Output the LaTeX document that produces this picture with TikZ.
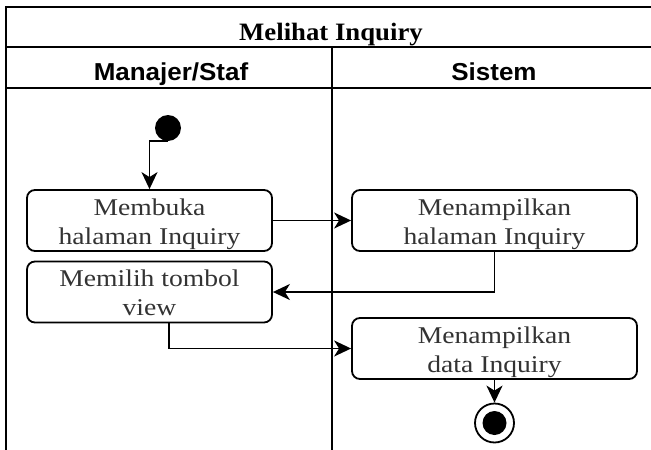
\documentclass[tikz,border=0pt]{standalone}
\usepackage{fontspec}
\setmainfont{Liberation Serif}
\newfontfamily\boxfont[FakeStretch=1.15]{Liberation Serif}
\newfontfamily\titlefont[FakeStretch=1.07]{Liberation Serif}
\newfontfamily\headfont[FakeStretch=1.06]{Liberation Sans}
\usetikzlibrary{arrows.meta}
\tikzset{
  frameline/.style={line width=2.8pt, black},
  sepline/.style={line width=2.2pt, black},
  actbox/.style={draw=black, line width=1.8pt, rounded corners=8pt,
    minimum width=245pt, minimum height=61pt, inner sep=0pt},
  boxtext/.style={anchor=north, inner sep=0pt, align=center, text=black!80,
    font=\boxfont\fontsize{24}{29}\selectfont},
  flow/.style={line width=1.8pt, black, -{Stealth[length=17pt,width=16pt,inset=5pt]}},
  headtext/.style={anchor=base, inner sep=0pt, font=\headfont\bfseries\fontsize{24.5}{29}\selectfont},
}
\begin{document}
\begin{tikzpicture}[x=1pt,y=-1pt]
\useasboundingbox (0,0) rectangle (651,450);
\fill[white] (0,0) rectangle (651,450);
\clip (0,0) rectangle (651,450);
% frame
\draw[frameline] (660,7) -- (6,7) -- (6,460);
\draw[sepline] (6,47) -- (660,47);
\draw[sepline] (6,88) -- (660,88);
\draw[sepline] (332,47) -- (332,460);
% titles
\node[anchor=base, inner sep=0pt, font=\titlefont\bfseries\fontsize{25}{30}\selectfont] (title) at (331,40) {Melihat Inquiry};
\node[headtext] (h1) at (171,80) {Manajer/Staf};
\node[headtext] (h2) at (494,80) {Sistem};
% nodes
\node[circle, fill=black, minimum size=26pt, inner sep=0pt] (s) at (168,128) {};
\node[actbox] (b1) at (149.5,220.5) {};
\node[actbox] (b2) at (149.5,292) {};
\node[actbox, minimum width=285pt] (b3) at (494.5,220.5) {};
\node[actbox, minimum width=285pt] (b4) at (494.5,348.5) {};
\node[boxtext] (t1) at ([yshift=-9.3pt]b1.north) {Membuka\\halaman Inquiry};
\node[boxtext] (t2) at ([yshift=-9.3pt]b2.north) {Memilih tombol\\view};
\node[boxtext] (t3) at ([yshift=-9.3pt]b3.north) {Menampilkan\\halaman Inquiry};
\node[boxtext] (t4) at ([yshift=-9.3pt]b4.north) {Menampilkan\\data Inquiry};
\node[circle, draw=black, line width=1.8pt, minimum size=39pt, inner sep=0pt] (e) at (494.5,423) {};
\node[circle, fill=black, minimum size=24pt, inner sep=0pt] (ein) at (e.center) {};
\coordinate (b2out) at ([xshift=19.5pt]b2.south);
% connectors
\draw[flow] (s.south) -| (b1.north);
\draw[flow] (b1.east) -- (b3.west);
\draw[flow] (b3.south) |- (b2.east);
\draw[flow] (b2out) |- (b4.west);
\draw[flow] (b4.south) -- (e.north);
\end{tikzpicture}
\end{document}
